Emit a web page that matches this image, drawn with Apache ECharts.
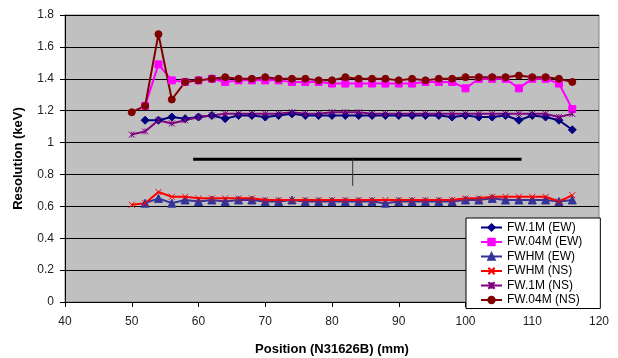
<!DOCTYPE html>
<html>
<head>
<meta charset="utf-8">
<script src="https://cdn.jsdelivr.net/npm/echarts@6/dist/echarts.min.js"></script>
<style>
  html, body { margin: 0; padding: 0; background: #fff; }
  #chart { width: 618px; height: 358px; }
</style>
</head>
<body>
<div id="chart"></div>
<script>
// positions (mm) - NS scans start at 50, EW scans at 52
const posNS = [50, 52, 54, 56, 58, 60, 62, 64, 66, 68, 70, 72, 74, 76, 78, 80, 82, 84, 86, 88, 90, 92, 94, 96, 98, 100, 102, 104, 106, 108, 110, 112, 114, 116];
const posEW = [52, 54, 56, 58, 60, 62, 64, 66, 68, 70, 72, 74, 76, 78, 80, 82, 84, 86, 88, 90, 92, 94, 96, 98, 100, 102, 104, 106, 108, 110, 112, 114, 116];

const fw1mEW = [1.14, 1.14, 1.16, 1.15, 1.16, 1.17, 1.15, 1.17, 1.17, 1.16, 1.17, 1.18, 1.17, 1.17, 1.17, 1.17, 1.17, 1.17, 1.17, 1.17, 1.17, 1.17, 1.17, 1.16, 1.17, 1.16, 1.16, 1.17, 1.14, 1.17, 1.16, 1.14, 1.08];
const fw04mEW = [1.23, 1.49, 1.39, 1.38, 1.39, 1.40, 1.38, 1.39, 1.39, 1.39, 1.39, 1.38, 1.38, 1.38, 1.37, 1.37, 1.37, 1.37, 1.37, 1.37, 1.37, 1.38, 1.38, 1.38, 1.34, 1.40, 1.40, 1.40, 1.34, 1.40, 1.40, 1.37, 1.21];
const fwhmEW = [0.62, 0.65, 0.62, 0.64, 0.63, 0.64, 0.63, 0.64, 0.64, 0.63, 0.63, 0.64, 0.63, 0.63, 0.63, 0.63, 0.63, 0.63, 0.62, 0.63, 0.63, 0.63, 0.63, 0.63, 0.64, 0.64, 0.65, 0.64, 0.64, 0.64, 0.64, 0.63, 0.64];
const fwhmNS = [0.61, 0.62, 0.69, 0.66, 0.66, 0.65, 0.65, 0.65, 0.65, 0.65, 0.64, 0.64, 0.64, 0.64, 0.64, 0.64, 0.64, 0.64, 0.64, 0.64, 0.64, 0.64, 0.64, 0.64, 0.64, 0.65, 0.65, 0.66, 0.66, 0.66, 0.66, 0.66, 0.63, 0.67];
const fw1mNS = [1.05, 1.07, 1.14, 1.12, 1.14, 1.16, 1.17, 1.18, 1.18, 1.18, 1.18, 1.18, 1.19, 1.18, 1.18, 1.19, 1.19, 1.19, 1.18, 1.18, 1.18, 1.18, 1.18, 1.18, 1.18, 1.18, 1.18, 1.18, 1.18, 1.18, 1.18, 1.18, 1.16, 1.18];
const fw04mNS = [1.19, 1.23, 1.68, 1.27, 1.38, 1.39, 1.40, 1.41, 1.40, 1.40, 1.41, 1.40, 1.40, 1.40, 1.39, 1.39, 1.41, 1.40, 1.40, 1.40, 1.39, 1.40, 1.39, 1.40, 1.40, 1.41, 1.41, 1.41, 1.41, 1.42, 1.41, 1.41, 1.40, 1.38];

// annotation bar drawn on the plot
const barLine = [[59.2, 0.895], [108.4, 0.895]];
const barTick = [[83.1, 0.895], [83.1, 0.728]];

const font = "'Liberation Sans', Arial, sans-serif";
const pair = (xs, ys) => xs.map((x, i) => [x, ys[i]]);

const xMark = 'path://M0,0L10,10M10,0L0,10';
const starMark = 'path://M0,0L10,10M10,0L0,10M5,0L5,10';

function mk(name, xs, ys, color, symbol, size) {
  return {
    name: name,
    type: 'line',
    data: pair(xs, ys),
    symbol: symbol,
    symbolSize: size,
    lineStyle: {color: color, width: 2},
    itemStyle: {color: color, borderColor: color, borderWidth: 1}
  };
}

const chart = echarts.init(document.getElementById('chart'));
chart.setOption({
  animation: false,
  textStyle: {fontFamily: font},
  grid: {
    left: 65, right: 19, top: 15, bottom: 56,
    outerBoundsMode: 'none',
    containLabel: false,
    show: true,
    backgroundColor: '#c0c0c0',
    borderColor: '#808080',
    borderWidth: 1
  },
  xAxis: {
    type: 'value',
    min: 40, max: 120, interval: 10,
    name: 'Position (N31626B) (mm)',
    nameLocation: 'middle',
    nameGap: 41,
    nameTextStyle: {fontWeight: 'bold', fontSize: 13, color: '#000', fontFamily: font},
    axisLine: {onZero: false, lineStyle: {color: '#000'}},
    axisTick: {show: true, length: 5, lineStyle: {color: '#000'}},
    axisLabel: {color: '#222', fontSize: 12, margin: 14, fontFamily: font},
    splitLine: {show: false}
  },
  yAxis: {
    type: 'value',
    min: 0, max: 1.8, interval: 0.2,
    name: 'Resolution (keV)',
    nameLocation: 'middle',
    nameGap: 40,
    nameTextStyle: {fontWeight: 'bold', fontSize: 13, color: '#000', fontFamily: font},
    axisLine: {show: true, lineStyle: {color: '#000'}},
    axisTick: {show: true, length: 5, lineStyle: {color: '#000'}},
    axisLabel: {color: '#222', fontSize: 12, margin: 11, fontFamily: font},
    splitLine: {show: true, lineStyle: {color: '#000', width: 1}}
  },
  legend: {
    orient: 'vertical',
    left: 466,
    top: 218,
    backgroundColor: '#fff',
    borderColor: '#000',
    borderWidth: 1,
    borderRadius: 0,
    padding: [3, 18, 2, 14],
    itemWidth: 21,
    itemHeight: 8,
    itemGap: 1.5,
    textStyle: {fontSize: 12, color: '#000', fontFamily: font, lineHeight: 13},
    data: ['FW.1M (EW)', 'FW.04M (EW)', 'FWHM (EW)', 'FWHM (NS)', 'FW.1M (NS)', 'FW.04M (NS)']
  },
  series: [
    mk('FW.1M (EW)', posEW, fw1mEW, '#000080', 'diamond', 8),
    mk('FW.04M (EW)', posEW, fw04mEW, '#ff00ff', 'rect', 7),
    mk('FWHM (EW)', posEW, fwhmEW, '#333399', 'triangle', 8),
    mk('FWHM (NS)', posNS, fwhmNS, '#ff0000', xMark, 6),
    mk('FW.1M (NS)', posNS, fw1mNS, '#800080', starMark, 6),
    mk('FW.04M (NS)', posNS, fw04mNS, '#800000', 'circle', 7),
    {
      type: 'line', data: barLine, symbol: 'none', silent: true,
      lineStyle: {color: '#000', width: 3}
    },
    {
      type: 'line', data: barTick, symbol: 'none', silent: true,
      lineStyle: {color: '#333', width: 1}
    }
  ]
});
</script>
</body>
</html>
